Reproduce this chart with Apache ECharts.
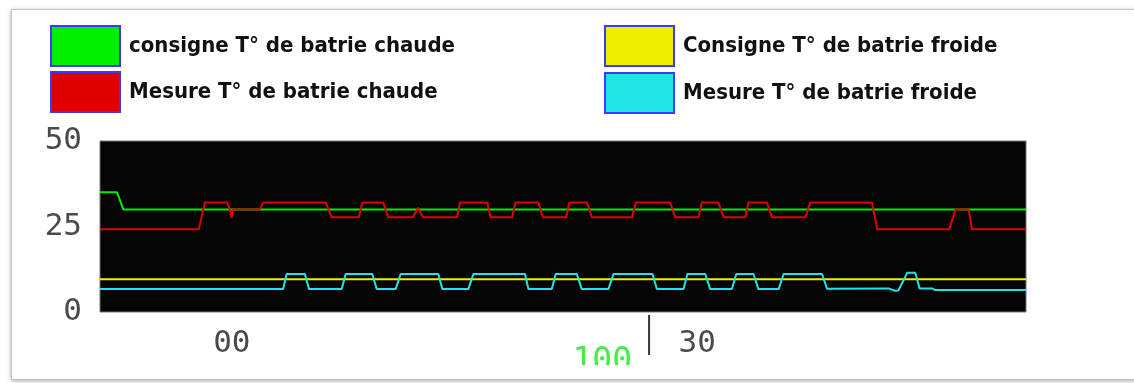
<!DOCTYPE html>
<html>
<head>
<meta charset="utf-8">
<script src="https://cdn.jsdelivr.net/npm/echarts@6/dist/echarts.min.js"></script>
<style>
  html, body { margin: 0; padding: 0; background: #ffffff; }
  #frame { position: absolute; left: 11px; top: 9px; width: 1140px; height: 369px;
           border: 1px solid #c4c4c4; box-shadow: 0 1px 4px rgba(0,0,0,0.35); background: #fff; }
  #chart { position: absolute; left: 0; top: 0; width: 1134px; height: 383px; }
</style>
</head>
<body>
<div id="frame"></div>
<div id="chart"></div>
<script>
// ---- data (x in minutes, y in °C) ----
const seriesNames = [
  'consigne T° de batrie chaude',
  'Mesure T° de batrie chaude',
  'Consigne T° de batrie froide',
  'Mesure T° de batrie froide'
];
const xTickValues = [0, 30];
const xTickLabels = ['00', '30'];
const yTickLabels = [0, 25, 50];
const cursorTime = 26.9;
const cursorReadout = '100';

const greenT = [-8.5, -7.4, -7.0, 51.2];
const greenV = [35, 35, 30, 30];

const redT = [-8.5, -2.13, -1.74, -0.30, -0.13, -0.02, 0.08, 1.81, 2.02, 6.06, 6.43, 8.19, 8.41, 9.76, 10.08,
  11.68, 12.0, 12.32, 14.52, 14.71, 16.47, 16.68, 18.06, 18.29, 19.76, 20.05, 21.55, 21.76, 22.90, 23.21,
  25.79, 26.05, 28.26, 28.58, 30.08, 30.30, 31.37, 31.70, 33.10, 33.31, 34.50, 34.82, 36.97, 37.29,
  41.27, 41.61, 46.26, 46.65, 47.50, 47.72, 51.2];
const redV = [24.2, 24.2, 32, 32, 30, 27.5, 30, 30, 32, 32, 27.7, 27.7, 32, 32, 27.7,
  27.7, 30.5, 27.7, 27.7, 32, 32, 27.7, 27.7, 32, 32, 27.7, 27.7, 32, 32, 27.7,
  27.7, 32, 32, 27.7, 27.7, 32, 32, 27.7, 27.7, 32, 32, 27.7, 27.7, 32,
  32, 24.2, 24.2, 30, 30, 24.2, 24.2];

const yellowT = [-8.5, 51.2];
const yellowV = [9.6, 9.6];

const cyanT = [-8.5, 3.31, 3.53, 4.71, 4.97, 7.08, 7.34, 9.05, 9.34, 10.56, 10.88, 13.31, 13.57, 15.25, 15.57,
  18.90, 19.12, 20.63, 20.88, 22.24, 22.56, 24.28, 24.60, 27.12, 27.40, 29.12, 29.37, 30.52, 30.84,
  32.24, 32.52, 33.63, 33.95, 35.25, 35.57, 38.05, 38.37, 42.32, 42.77, 42.97, 43.55, 44.06, 44.34,
  45.14, 45.35, 51.2];
const cyanV = [6.7, 6.7, 11.1, 11.1, 6.7, 6.7, 11.1, 11.1, 6.7, 6.7, 11.1, 11.1, 6.7, 6.7, 11.1,
  11.1, 6.7, 6.7, 11.1, 11.1, 6.7, 6.7, 11.1, 11.1, 6.7, 6.7, 11.1, 11.1, 6.7,
  6.7, 11.1, 11.1, 6.7, 6.7, 11.1, 11.1, 6.8, 6.9, 6.2, 6.3, 11.5, 11.5, 6.9,
  6.9, 6.4, 6.4];

const colors = ['#00ee00', '#e00000', '#eeee00', '#22e4e4'];
const pair = (t, v) => t.map((x, i) => [x, v[i]]);

const chart = echarts.init(document.getElementById('chart'), null, { renderer: 'canvas' });

const legendFont = {
  fontFamily: "'DejaVu Sans Condensed', 'Liberation Sans Narrow', sans-serif",
  fontWeight: 'bold', fontSize: 22, color: '#111', padding: [0, 0, 0, 4]
};
const legendItem = (i) => ({
  name: seriesNames[i], icon: 'rect',
  itemStyle: { color: colors[i], borderColor: '#3a3aff', borderWidth: 2 }
});
const axisFont = { fontFamily: "'DejaVu Sans Mono', monospace", fontSize: 31, color: '#4a4a4a' };

chart.setOption({
  animation: false,
  backgroundColor: 'transparent',
  legend: [
    { orient: 'vertical', left: 50, top: 25, padding: 0, itemWidth: 69, itemHeight: 40, itemGap: 4,
      selectedMode: false, textStyle: legendFont, data: [legendItem(0), legendItem(1)] },
    { orient: 'vertical', left: 604, top: 25, padding: 0, itemWidth: 69, itemHeight: 40, itemGap: 5,
      selectedMode: false, textStyle: legendFont, data: [legendItem(2), legendItem(3)] }
  ],
  grid: { left: 100, right: 108, top: 141, bottom: 71, show: true,
          backgroundColor: '#050505', borderColor: '#777', borderWidth: 1 },
  xAxis: {
    type: 'value', min: -8.5, max: 51.2,
    axisLine: { show: false }, axisTick: { show: false }, splitLine: { show: false },
    axisLabel: Object.assign({}, axisFont, {
      margin: 16, customValues: xTickValues,
      formatter: (v) => xTickLabels[xTickValues.indexOf(v)] ?? ''
    })
  },
  yAxis: {
    type: 'value', min: yTickLabels[0], max: yTickLabels[2], interval: 25,
    axisLine: { show: false }, axisTick: { show: false }, splitLine: { show: false },
    axisLabel: Object.assign({}, axisFont, { margin: 18 })
  },
  series: [
    { name: seriesNames[0], type: 'line', data: pair(greenT, greenV) },
    { name: seriesNames[1], type: 'line', data: pair(redT, redV) },
    { name: seriesNames[2], type: 'line', data: pair(yellowT, yellowV) },
    { name: seriesNames[3], type: 'line', data: pair(cyanT, cyanV) }
  ].map((s, i) => Object.assign(s, {
    showSymbol: false, symbol: 'none', color: colors[i],
    lineStyle: { color: colors[i], width: 2 }
  }))
});

// cursor bar and readout positioned from the x scale
const cx = chart.convertToPixel({ xAxisIndex: 0 }, cursorTime);
const axisY = chart.convertToPixel({ yAxisIndex: 0 }, 0);
chart.setOption({
  graphic: [
    { type: 'line', shape: { x1: cx, y1: axisY + 3, x2: cx, y2: axisY + 43 },
      style: { stroke: '#333', lineWidth: 2 } },
    { type: 'text', x: cx - 17, y: axisY + 34, z: 10,
      style: { text: cursorReadout, align: 'right', verticalAlign: 'top',
               font: "33px 'DejaVu Sans Mono', monospace", fill: '#44ee44' } },
    { type: 'rect', shape: { x: cx - 100, y: axisY + 53, width: 96, height: 14 }, z: 11,
      style: { fill: '#ffffff' } }
  ]
});
</script>
</body>
</html>
